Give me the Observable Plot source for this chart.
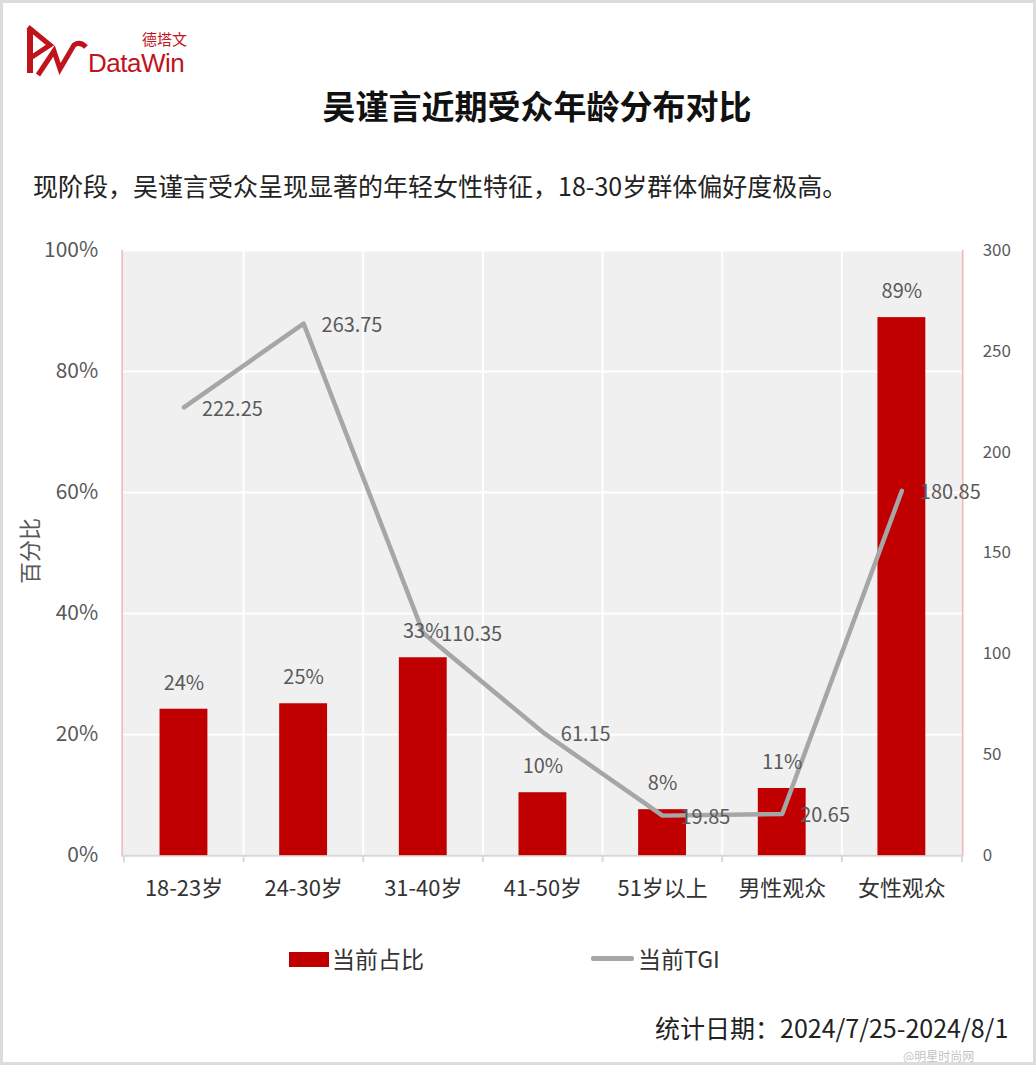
<!DOCTYPE html>
<html>
<head>
<meta charset="utf-8">
<script src="https://cdn.jsdelivr.net/npm/d3@7"></script>
<script src="https://cdn.jsdelivr.net/npm/@observablehq/plot@0.6"></script>
<style>
  html, body { margin: 0; padding: 0; background: #fff; }
  #page { position: relative; width: 1036px; height: 1065px; box-sizing: border-box;
          border: 3px solid #dcdcdc; overflow: hidden;
          font-family: "Noto Sans CJK SC", "Noto Sans", sans-serif; }
  .abs { position: absolute; white-space: nowrap; }
  #title { top: 78px; left: 0; width: 1068px; text-align: center; font-size: 33px; font-weight: bold; color: #111; }
  #subtitle { top: 164px; left: 30px; font-size: 25px; color: #222; }
  #ylabel { left: -8px; top: 532px; font-size: 22px; color: #595959; transform: rotate(-90deg); transform-origin: center; }
  #chart { position: absolute; top: 227px; left: -3px; }
  .leg { font-size: 23px; color: #333; top: 938px; }
  #footer { top: 1006px; left: 652px; font-size: 25px; color: #222; }
  #wm { top: 1044px; left: 900px; font-size: 12px; color: rgba(150,150,150,0.6); }
</style>
</head>
<body>
<div id="page">
  <svg class="abs" style="left:21px;top:18px" width="64" height="58" viewBox="0 0 64 58">
    <path d="M6 8 L6 52" stroke="#c0141c" stroke-width="6" fill="none"/>
    <path d="M4 6 L26 24 L8 36" stroke="#c0141c" stroke-width="5" fill="none"/>
    <path d="M14 54 L30 30 L36 48 L50 24 Q56 20 62 26" stroke="#c0141c" stroke-width="5" fill="none"/>
  </svg>
  <div class="abs" style="left:139px;top:25px;font-size:15px;color:#c0141c;">德塔文</div>
  <div class="abs" style="left:85px;top:45px;font-size:26px;color:#c0141c;font-family:'Liberation Sans',sans-serif;letter-spacing:-0.5px;">DataWin</div>

  <div id="title" class="abs">吴谨言近期受众年龄分布对比</div>
  <div id="subtitle" class="abs">现阶段，吴谨言受众呈现显著的年轻女性特征，18-30岁群体偏好度极高。</div>
  <div id="ylabel" class="abs">百分比</div>
  <div id="chart"></div>

  <div class="abs" style="left:286px;top:949px;width:40px;height:15px;background:#c00000;"></div>
  <div class="abs leg" style="left:329px;">当前占比</div>
  <div class="abs" style="left:588px;top:953px;width:43px;height:5px;background:#a6a6a6;border-radius:2px;"></div>
  <div class="abs leg" style="left:635px;">当前TGI</div>

  <div id="footer" class="abs">统计日期：2024/7/25-2024/8/1</div>
  <div id="wm" class="abs">@明星时尚网</div>
</div>
<script>
const categories = ["18-23岁", "24-30岁", "31-40岁", "41-50岁", "51岁以上", "男性观众", "女性观众"];
const shareValues = [24.2, 25.1, 32.7, 10.4, 7.6, 11.1, 88.9];
const tgiValues = [222.25, 263.75, 110.35, 61.15, 19.85, 20.65, 180.85];
const leftTicks = [0, 20, 40, 60, 80, 100];
const rightTicks = [0, 50, 100, 150, 200, 250, 300];
const tgiMax = 300;

const data = categories.map((c, i) => ({cat: c, share: shareValues[i], tgi: tgiValues[i]}));

const W = 1036, H = 692;
const mL = 122, mR = 71, mT = 20, mB = 65;
const bw = (W - mL - mR) / categories.length;
const toPct = v => v * 100 / tgiMax;

const chart = Plot.plot({
  width: W, height: H,
  marginLeft: mL, marginRight: mR, marginTop: mT, marginBottom: mB,
  style: {fontFamily: "'Noto Sans CJK SC', 'Noto Sans', sans-serif", background: "transparent", overflow: "visible"},
  x: {domain: categories, paddingInner: 0.6, paddingOuter: 0.3, label: null},
  y: {domain: [0, 100], label: null},
  marks: [
    Plot.frame({fill: "#f0f0f0", stroke: null}),
    Plot.gridY({ticks: [20, 40, 60, 80, 100], stroke: "#ffffff", strokeOpacity: 1, strokeWidth: 2}),
    Plot.ruleX(categories.slice(1), {x: d => d, dx: -bw / 2, stroke: "#ffffff", strokeWidth: 2}),
    Plot.frame({anchor: "left", stroke: "#f3b4b4", strokeWidth: 1.5}),
    Plot.frame({anchor: "right", stroke: "#f3b4b4", strokeWidth: 1.5}),
    Plot.ruleY([0], {stroke: "#d9d9d9", strokeWidth: 2}),
    Plot.axisX({ticks: categories, tickSize: 7, dx: -bw / 2, tickFormat: () => "", stroke: "#d9d9d9", strokeWidth: 2}),
    Plot.axisX({ticks: categories.slice(-1), tickSize: 7, dx: bw / 2, tickFormat: () => "", stroke: "#d9d9d9", strokeWidth: 2}),
    Plot.axisX({tickSize: 0, tickPadding: 25, fontSize: 22, fill: "#333", label: null}),
    Plot.axisY({ticks: leftTicks, tickSize: 0, tickPadding: 24, fontSize: 21, fill: "#595959",
                tickFormat: d => d + "%", label: null}),
    Plot.axisY({anchor: "right", ticks: rightTicks.map(toPct), tickSize: 0, tickPadding: 20,
                fontSize: 17, fill: "#595959", tickFormat: d => String(Math.round(d * tgiMax / 100)), label: null}),
    Plot.barY(data, {x: "cat", y: "share", fill: "#c00000"}),
    Plot.line(data, {x: "cat", y: d => toPct(d.tgi), stroke: "#a6a6a6", strokeWidth: 4.5, strokeLinejoin: "round"}),
    Plot.text(data, {x: "cat", y: "share", text: d => Math.round(d.share) + "%", dy: -26, fontSize: 20, fill: "#595959"}),
    Plot.text(data, {x: "cat", y: d => toPct(d.tgi), text: d => d.tgi.toFixed(2), dx: 18, dy: 2, textAnchor: "start", fontSize: 20, fill: "#595959"})
  ]
});
document.getElementById("chart").appendChild(chart);
</script>
</body>
</html>
